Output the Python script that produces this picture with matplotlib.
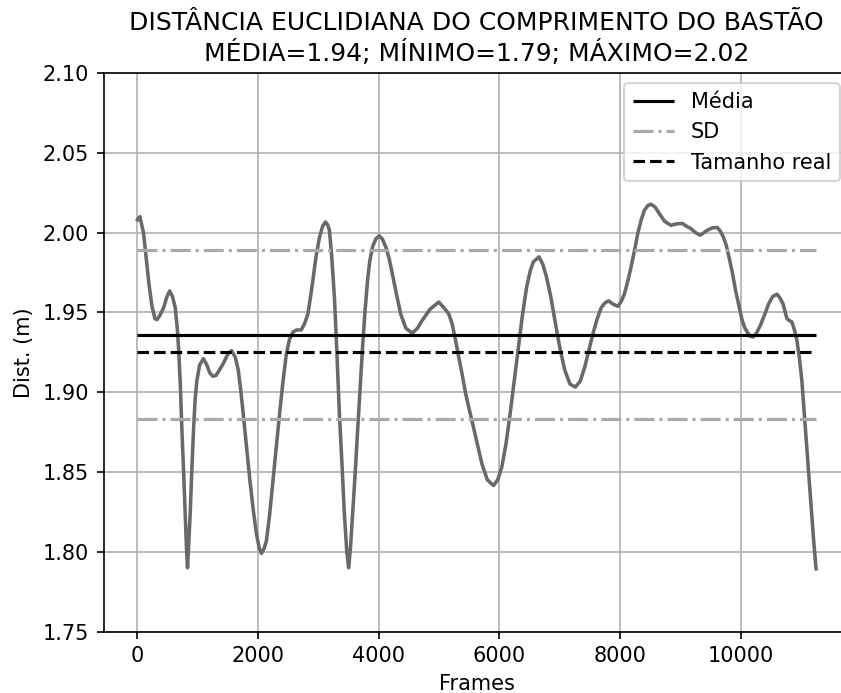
import matplotlib
matplotlib.use("Agg")
import matplotlib.pyplot as plt
import numpy as np

# Distance (frame, metres)
frames = [
    0, 40, 100, 150, 190, 240, 290, 325, 370, 434, 490, 533, 580, 626, 660,
    681, 710, 737, 765, 791, 815, 830, 850, 874, 900, 929, 955, 984, 1030,
    1094, 1150, 1200, 1250, 1302, 1360, 1423, 1500, 1561, 1620, 1670, 1710,
    1753, 1810, 1863, 1920, 1973, 2020, 2055, 2100, 2138, 2190, 2247, 2300,
    2357, 2410, 2468, 2520, 2577, 2640, 2715, 2770, 2825, 2870, 2907, 2960,
    3017, 3070, 3116, 3150, 3182, 3220, 3264, 3300, 3347, 3390, 3429, 3470,
    3500, 3530, 3566, 3610, 3649, 3690, 3731, 3770, 3814, 3850, 3896, 3950,
    4006, 4060, 4116, 4170, 4226, 4290, 4363, 4450, 4555, 4640, 4720, 4850,
    4995, 5100, 5160, 5215, 5270, 5325, 5380, 5440, 5490, 5545, 5630, 5710,
    5800, 5902, 5970, 6039, 6110, 6177, 6245, 6314, 6380, 6451, 6510, 6561,
    6655, 6720, 6781, 6850, 6919, 7000, 7084, 7170, 7259, 7340, 7414, 7480,
    7550, 7620, 7687, 7750, 7809, 7890, 7963, 8020, 8073, 8130, 8182, 8240,
    8292, 8350, 8402, 8460, 8512, 8580, 8649, 8740, 8841, 8940, 9034, 9100,
    9171, 9250, 9326, 9390, 9446, 9530, 9611, 9660, 9710, 9760, 9804, 9860,
    9913, 9970, 10023, 10070, 10117, 10160, 10204, 10260, 10325, 10400,
    10463, 10530, 10600, 10650, 10699, 10730, 10765, 10800, 10847, 10890,
    10930, 10970, 11012, 11050, 11095, 11135, 11177, 11210, 11248,
]
dist = [
    2.008, 2.010, 2.000, 1.982, 1.968, 1.954, 1.946, 1.9455, 1.948, 1.953,
    1.960, 1.9634, 1.960, 1.953, 1.940, 1.928, 1.905, 1.876, 1.850, 1.824,
    1.800, 1.790, 1.805, 1.824, 1.850, 1.876, 1.895, 1.907, 1.917, 1.921,
    1.917, 1.912, 1.910, 1.9105, 1.914, 1.918, 1.924, 1.926, 1.922, 1.914,
    1.902, 1.8865, 1.865, 1.845, 1.826, 1.811, 1.802, 1.799, 1.802, 1.807,
    1.823, 1.845, 1.866, 1.887, 1.906, 1.924, 1.933, 1.9377, 1.939, 1.939,
    1.943, 1.949, 1.960, 1.970, 1.985, 1.997, 2.004, 2.0067, 2.005, 2.0015,
    1.985, 1.960, 1.930, 1.8865, 1.855, 1.824, 1.800, 1.790, 1.802, 1.824,
    1.850, 1.876, 1.902, 1.928, 1.950, 1.970, 1.982, 1.991, 1.996, 1.998,
    1.996, 1.991, 1.984, 1.974, 1.962, 1.949, 1.940, 1.937, 1.940, 1.945,
    1.952, 1.9565, 1.952, 1.949, 1.943, 1.933, 1.922, 1.9116, 1.899, 1.8907,
    1.882, 1.868, 1.855, 1.845, 1.8415, 1.845, 1.853, 1.868, 1.8865, 1.907,
    1.928, 1.948, 1.966, 1.976, 1.9816, 1.9848, 1.980, 1.972, 1.960, 1.945,
    1.928, 1.9137, 1.905, 1.9032, 1.907, 1.9158, 1.926, 1.9367, 1.946, 1.953,
    1.956, 1.9572, 1.955, 1.9538, 1.957, 1.9618, 1.970, 1.9785, 1.989,
    1.9994, 2.008, 2.014, 2.017, 2.0178, 2.016, 2.012, 2.007, 2.0046, 2.0055,
    2.0057, 2.004, 2.0026, 2.000, 1.9984, 2.000, 2.0015, 2.003, 2.0032,
    2.001, 1.9973, 1.992, 1.9848, 1.975, 1.9639, 1.954, 1.945, 1.940,
    1.9371, 1.935, 1.9346, 1.937, 1.9419, 1.949, 1.9555, 1.960, 1.9614,
    1.959, 1.9555, 1.951, 1.9461, 1.945, 1.944, 1.939, 1.9325, 1.922,
    1.9074, 1.888, 1.8656, 1.845, 1.8238, 1.806, 1.7893,
]

mean_dist = 1.936
sd_dist = 0.053
real_size = 1.925
title = ("DISTÂNCIA EUCLIDIANA DO COMPRIMENTO DO BASTÃO\n"
         "MÉDIA=1.94; MÍNIMO=1.79; MÁXIMO=2.02")

plt.rcParams["font.size"] = 10

fig = plt.figure(figsize=(841 / 150, 693 / 150), dpi=150)
ax = fig.add_axes([0.1231, 0.0887, 0.8876, 0.8059])

ax.plot(frames, dist, color="dimgray", linewidth=1.7)

ax.hlines(mean_dist, frames[0], frames[-1], color="black",
          linewidth=1.5, label="Média")
ax.hlines([mean_dist + sd_dist, mean_dist - sd_dist], frames[0], frames[-1],
          color="darkgray", linestyle="-.", linewidth=1.5, label="SD")
ax.hlines(real_size, frames[0], frames[-1], color="black",
          linestyle="--", linewidth=1.5, label="Tamanho real")

ax.set_ylim(1.75, 2.10)
ax.set_yticks(np.arange(1.75, 2.101, 0.05))
ax.set_xticks(range(0, 10001, 2000))
ax.grid(True)
ax.spines["right"].set_visible(False)

ax.set_title(title)
ax.set_xlabel("Frames")
ax.set_ylabel("Dist. (m)")
ax.legend(loc="upper right")

fig.savefig("out.png", dpi=150)
